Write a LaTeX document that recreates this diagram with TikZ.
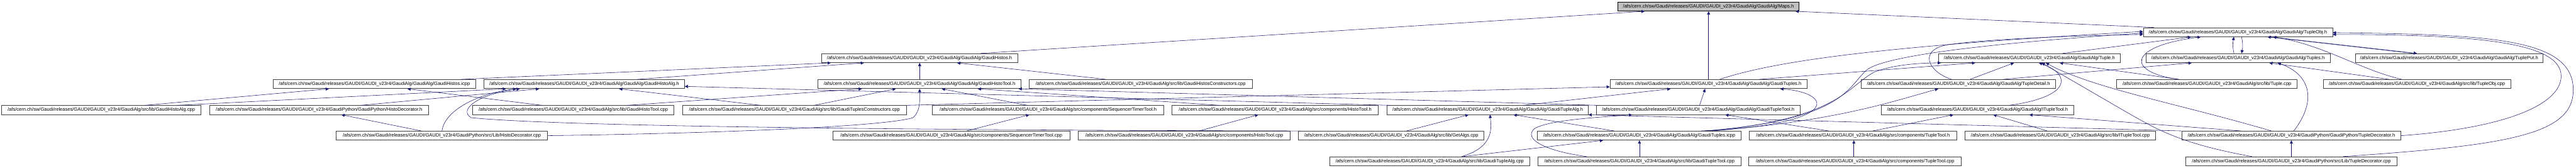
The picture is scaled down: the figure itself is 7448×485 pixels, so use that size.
\documentclass[tikz,border=0pt]{standalone}
\usepackage{fontspec}
\setmainfont{Liberation Sans}
\usetikzlibrary{arrows.meta}
\definecolor{edgeblue}{HTML}{191970}
\definecolor{rootgray}{HTML}{BFBFBF}
\newcommand{\gpre}{/afs/cern.ch/sw/Gaudi/releases/GAUDI/GAUDI\_v23r4/}

\begin{document}
\begin{tikzpicture}[
    x=0.75pt, y=-0.75pt,
    fichero/.style={draw=black!75, fill=white, line width=1pt, font=\fontsize{10.3}{12}\selectfont,
                    minimum height=19.5pt, inner xsep=1pt, inner ysep=0pt},
    raiz/.style={fichero, fill=rootgray, draw=black},
    dep/.style={->, >={Triangle[length=7pt, width=6.5pt]}, draw=edgeblue, line width=0.75pt}
  ]
  \path[use as bounding box, fill=white] (0,0) rectangle (7448,485);

  \node[raiz, minimum width=393.75pt]    (maps)       at (4939.5,19) {\gpre GaudiAlg/GaudiAlg/Maps.h};
  \node[fichero, minimum width=410.25pt] (tobjh)      at (6470.5,93) {\gpre GaudiAlg/GaudiAlg/TupleObj.h};

  \node[fichero, minimum width=425.25pt] (histosh)    at (2658.5,168) {\gpre GaudiAlg/GaudiAlg/GaudiHistos.h};
  \node[fichero, minimum width=393.75pt] (tupleh)     at (5867.5,168) {\gpre GaudiAlg/GaudiAlg/Tuple.h};
  \node[fichero, minimum width=399.75pt] (tuplesh)    at (6470.5,168) {\gpre GaudiAlg/GaudiAlg/Tuples.h};
  \node[fichero, minimum width=406.5pt]  (tputh)      at (7081,168)   {\gpre GaudiAlg/GaudiAlg/TuplePut.h};

  \node[fichero, minimum width=438.75pt] (histosicpp) at (1082.5,243) {\gpre GaudiAlg/GaudiAlg/GaudiHistos.icpp};
  \node[fichero, minimum width=435pt]    (halgh)      at (1689,243)   {\gpre GaudiAlg/GaudiAlg/GaudiHistoAlg.h};
  \node[fichero, minimum width=440.25pt] (htoolh)     at (2658.5,243) {\gpre GaudiAlg/GaudiAlg/GaudiHistoTool.h};
  \node[fichero, minimum width=484.5pt]  (hconscpp)   at (3298,243)   {\gpre GaudiAlg/src/lib/GaudiHistosConstructors.cpp};
  \node[fichero, minimum width=426.75pt] (tuplesgh)   at (4939.5,243) {\gpre GaudiAlg/GaudiAlg/GaudiTuples.h};
  \node[fichero, minimum width=420.75pt] (tdeth)      at (5662.5,243) {\gpre GaudiAlg/GaudiAlg/TupleDetail.h};
  \node[fichero, minimum width=391.5pt]  (tuplecpp)   at (6381,243)   {\gpre GaudiAlg/src/lib/Tuple.cpp};
  \node[fichero, minimum width=406.5pt]  (tobjcpp)    at (6988,243)   {\gpre GaudiAlg/src/lib/TupleObj.cpp};

  \node[fichero, minimum width=432pt]    (halgcpp)    at (293,318)    {\gpre GaudiAlg/src/lib/GaudiHistoAlg.cpp};
  \node[fichero, minimum width=474.75pt] (hdech)      at (922.5,318)  {\gpre GaudiPython/GaudiPython/HistoDecorator.h};
  \node[fichero, minimum width=437.25pt] (htoolcpp)   at (1657.5,318) {\gpre GaudiAlg/src/lib/GaudiHistoTool.cpp};
  \node[fichero, minimum width=486pt]    (tconscpp)   at (2297,318)   {\gpre GaudiAlg/src/lib/GaudiTuplesConstructors.cpp};
  \node[fichero, minimum width=501.75pt] (seqh)       at (3030.5,318) {\gpre GaudiAlg/src/components/SequencerTimerTool.h};
  \node[fichero, minimum width=447pt]    (histotoolh) at (3687,318)   {\gpre GaudiAlg/src/components/HistoTool.h};
  \node[fichero, minimum width=435.75pt] (talgh)      at (4301.5,318) {\gpre GaudiAlg/GaudiAlg/GaudiTupleAlg.h};
  \node[fichero, minimum width=442.5pt]  (ttoolh)     at (4910,318)   {\gpre GaudiAlg/GaudiAlg/GaudiTupleTool.h};
  \node[fichero, minimum width=416.25pt] (itth)       at (5717.5,318) {\gpre GaudiAlg/GaudiAlg/ITupleTool.h};

  \node[fichero, minimum width=458.25pt] (hdeccpp)    at (1277.5,392) {\gpre GaudiPython/src/Lib/HistoDecorator.cpp};
  \node[fichero, minimum width=513.75pt] (seqcpp)     at (2750.5,392) {\gpre GaudiAlg/src/components/SequencerTimerTool.cpp};
  \node[fichero, minimum width=459pt]    (histotoolcpp) at (3424,392) {\gpre GaudiAlg/src/components/HistoTool.cpp};
  \node[fichero, minimum width=402.75pt] (getalgs)    at (4022.5,392) {\gpre GaudiAlg/src/lib/GetAlgs.cpp};
  \node[fichero, minimum width=441.75pt] (tuplesicpp) at (4739.5,392) {\gpre GaudiAlg/GaudiAlg/GaudiTuples.icpp};
  \node[fichero, minimum width=449.25pt] (tupletoolh) at (5357.5,392) {\gpre GaudiAlg/src/components/TupleTool.h};
  \node[fichero, minimum width=414pt]    (ittcpp)     at (5957,392)   {\gpre GaudiAlg/src/lib/ITupleTool.cpp};
  \node[fichero, minimum width=475.5pt]  (tdech)      at (6625,392)   {\gpre GaudiPython/GaudiPython/TupleDecorator.h};

  \node[fichero, minimum width=434.25pt] (talgcpp)    at (4133.5,466) {\gpre GaudiAlg/src/lib/GaudiTupleAlg.cpp};
  \node[fichero, minimum width=439.5pt]  (ttoolcpp)   at (4740,466)   {\gpre GaudiAlg/src/lib/GaudiTupleTool.cpp};
  \node[fichero, minimum width=461.25pt] (tupletoolcpp) at (5363.5,466) {\gpre GaudiAlg/src/components/TupleTool.cpp};
  \node[fichero, minimum width=457.5pt]  (tdeccpp)    at (6625,466)   {\gpre GaudiPython/src/Lib/TupleDecorator.cpp};

  \draw[dep] (histosh.north -| 2835,0) -- (maps.south -| 4755,0);
  \draw[dep] (tobjh.north -| 6228,0) -- (maps.south -| 5191,0);
  \draw[dep] (tuplesgh.north -| 4940,0) -- (maps.south -| 4940,0);

  \draw[dep] (histosicpp.north -| 1332,0) -- (histosh.south -| 2402,0);
  \draw[dep] (halgh.north -| 1842,0) -- (histosh.south -| 2498,0);
  \draw[dep] (htoolh.north -| 2659,0) -- (histosh.south -| 2659,0);
  \draw[dep] (hconscpp.north -| 3198,0) -- (histosh.south -| 2767,0);

  \draw[dep] (halgcpp.north -| 419,0) -- (histosicpp.south -| 951,0);
  \draw[dep] (halgcpp.north -| 514,0) -- (halgh.south -| 1463,0);
  \draw[dep] (htoolcpp.north -| 1567,0) -- (histosicpp.south -| 1178,0);
  \draw[dep] (hdech.north -| 1043,0) -- (halgh.south -| 1559,0);
  \draw[dep] (hdeccpp.north -| 1218,0) -- (hdech.south -| 987,0);
  \draw[dep] (hdeccpp.north -| 1278,0) .. controls (1285,320) and (1380,270) .. (halgh.south -| 1493,0);
  \draw[dep] (getalgs.north -| 3760,0) .. controls (3000,377) and (1650,370) .. (1362,340)
             .. controls (1325,318) and (1380,272) .. (halgh.south -| 1503,0);
  \draw[dep] (hdeccpp.east) .. controls (2100,385) and (2560,365) .. (2640,340)
             .. controls (2662,320) and (2659,290) .. (htoolh.south -| 2659,0);
  \draw[dep] (htoolcpp.north -| 1814,0) -- (htoolh.south -| 2492,0);
  \draw[dep] (tconscpp.north -| 2199,0) -- (halgh.south -| 1790,0);
  \draw[dep] (tconscpp.north -| 2354,0) -- (htoolh.south -| 2590,0);
  \draw[dep] (tconscpp.north east) -- ([yshift=-6pt]tuplesgh.west);
  \draw[dep] (seqh.north -| 2970,0) -- (htoolh.south -| 2723,0);
  \draw[dep] (seqcpp.north -| 2795,0) -- (seqh.south -| 2976,0);
  \draw[dep] (histotoolh.north -| 3526,0) -- (htoolh.south -| 2827,0);
  \draw[dep] (histotoolcpp.north -| 3467,0) -- (histotoolh.south -| 3638,0);
  \draw[dep] (ttoolh.north -| 4619,0) -- (htoolh.south -| 2945,0);
  \draw[dep] (talgh.north -| 4019,0) -- ([yshift=-5pt]halgh.east);

  \draw[dep] (getalgs.north -| 4067,0) -- (talgh.south -| 4246,0);
  \draw[dep] (talgcpp.north -| 4226,0) .. controls (4320,425) and (4312,370) .. (talgh.south -| 4308,0);
  \draw[dep] (talgcpp.north -| 4230,0) -- (tuplesicpp.south -| 4635,0);
  \draw[dep] (ttoolcpp.north -| 4740,0) -- (tuplesicpp.south -| 4740,0);
  \draw[dep] (ttoolcpp.north -| 4587,0) .. controls (4460,435) and (4405,400) .. (4436,372)
             .. controls (4480,345) and (4640,338) .. (ttoolh.south -| 4719,0);
  \draw[dep] (tuplesicpp.north -| 4667,0) -- (talgh.south -| 4376,0);
  \draw[dep] (talgh.north -| 4404,0) -- (tuplesgh.south -| 4830,0);
  \draw[dep] (ttoolh.north -| 4914,0) -- (tuplesgh.south -| 4930,0);

  \draw[dep] (tuplesicpp.north -| 4918,0) .. controls (5330,360) and (5300,268) .. (tuplesgh.south -| 5147,0);
  \draw[dep] (tuplesicpp.north -| 4930,0) .. controls (5340,345) and (5340,250) .. (5400,200)
             .. controls (5460,160) and (5750,125) .. ([yshift=-2pt]tobjh.west);
  \draw[dep] (tuplesicpp.north -| 4940,0) .. controls (5320,345) and (5345,245) .. (5420,208)
             .. controls (5480,185) and (5560,182) .. (tupleh.south -| 5612,0);
  \draw[dep] (tuplesicpp.north -| 4950,0) .. controls (5300,350) and (5450,300) .. (tdeth.south -| 5604,0);

  \draw[dep] (tuplesgh.north -| 4972,0) .. controls (5150,170) and (5500,130) .. ([yshift=1.5pt]tobjh.west);
  \draw[dep] (tuplesgh.north -| 5086,0) -- (tupleh.south -| 5711,0);
  \draw[dep] (tdeth.north -| 5696,0) -- (tupleh.south -| 5823,0);
  \draw[dep] (tdeth.north -| 5642,0) .. controls (5570,205) and (5545,140) .. (5640,128)
             .. controls (5760,112) and (6000,103) .. ([yshift=-5pt]tobjh.west);
  \draw[dep] (tdeth.north -| 5791,0) -- (tuplesh.south -| 6337,0);
  \draw[dep] (itth.north -| 5809,0) .. controls (5990,280) and (5990,215) .. (tupleh.south -| 5895,0);

  \draw[dep] (tupletoolh.north -| 5287,0) -- (ttoolh.south -| 4988,0);
  \draw[dep] (tupletoolh.north -| 5415,0) -- (itth.south -| 5648,0);
  \draw[dep] (tupletoolcpp.north -| 5360,0) -- (tupletoolh.south -| 5360,0);
  \draw[dep] (ittcpp.north -| 5919,0) -- (itth.south -| 5763,0);

  \draw[dep] (tdech.north -| 6479,0) -- (itth.south -| 5867,0);
  \draw[dep] (tdech.north west) -- (talgh.south east);
  \draw[dep] (tdech.north -| 6567,0) .. controls (6300,300) and (6050,255) .. (tupleh.south -| 5915,0);
  \draw[dep] (tdech.north -| 6632,0) .. controls (6700,290) and (6680,215) .. (tuplesh.south -| 6585,0);
  \draw[dep] (tdech.east) .. controls (7250,370) and (7405,300) .. (7405,220)
             .. controls (7405,120) and (7150,100) .. ([yshift=-5pt]tobjh.east);
  \draw[dep] (tdeccpp.north -| 6511,0) .. controls (6300,415) and (6230,370) .. (6150,325) -- (tupleh.south -| 5903,0);
  \draw[dep] (tdeccpp.north -| 6625,0) -- (tdech.south -| 6625,0);
  \draw[dep] (tdeccpp.north -| 6775,0) .. controls (7250,420) and (7440,390) .. (7440,260)
             .. controls (7440,110) and (7200,100) .. ([yshift=-1pt]tobjh.east);

  \draw[dep] (tupleh.north -| 5963,0) -- (tobjh.south -| 6335,0);
  \draw[dep] (tuplecpp.north -| 6300,0) -- (tupleh.south -| 5955,0);
  \draw[dep] (tuplecpp.north -| 6300,0) .. controls (6150,210) and (6145,135) .. (tobjh.south -| 6363,0);
  \draw[dep] (tuplesh.north -| 6459,0) to[bend left=12] (tobjh.south -| 6459,0);
  \draw[dep] (tobjh.south -| 6481,0) to[bend left=12] (tuplesh.north -| 6481,0);
  \draw[dep] (tputh.north -| 6978,0) -- (tobjh.south -| 6556,0);
  \draw[dep] (tobjh.south -| 6564,0) -- (tputh.north -| 6988,0);
  \draw[dep] (tobjcpp.north -| 6944,0) .. controls (6820,200) and (6720,130) .. (tobjh.south -| 6572,0);
  \draw[dep] (tobjcpp.north -| 6908,0) -- (tuplesh.south -| 6561,0);
\end{tikzpicture}
\end{document}
